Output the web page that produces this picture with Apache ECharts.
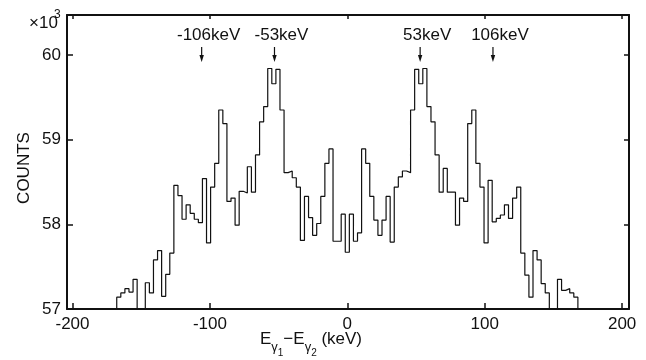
<!DOCTYPE html>
<html>
<head>
<meta charset="utf-8">
<script src="https://cdn.jsdelivr.net/npm/echarts@6/dist/echarts.min.js"></script>
<style>
html, body { margin: 0; padding: 0; background: #fff; }
#container { width: 646px; height: 360px; }
</style>
</head>
<body>
<div id="container"></div>
<script>
// energy difference spectrum, bins of ~2.97 keV centred on 0 (bin index -56 .. 56)
var binWidth = 2.97;
var firstBin = -56;
// counts in units of 10^3, one value per bin, left to right
var counts = [
    57.14, 57.19, 57.24, 57.20, 57.35, 57.00, 57.00, 57.31, 57.19, 57.58,
    57.69, 57.15, 57.41, 57.66, 58.46, 58.34, 58.06, 58.23, 58.13, 58.06,
    58.02, 58.54, 57.78, 58.44, 58.72, 59.35, 59.19, 58.27, 58.31, 57.99,
    58.39, 58.37, 58.68, 58.38, 58.82, 59.21, 59.39, 59.84, 59.66, 59.83,
    59.35, 58.61, 58.63, 58.55, 58.44, 57.81, 58.33, 58.08, 57.87, 58.01,
    58.33, 58.72, 58.89, 57.80, 57.80, 58.12, 57.67, 58.12, 57.80, 57.90,
    58.89, 58.72, 58.33, 58.05, 57.87, 58.05, 58.33, 57.79, 58.44, 58.56,
    58.63, 58.61, 59.35, 59.83, 59.66, 59.84, 59.39, 59.21, 58.82, 58.38,
    58.66, 58.38, 58.38, 57.99, 58.31, 58.27, 59.19, 59.35, 58.72, 58.44,
    57.78, 58.52, 58.03, 58.07, 58.11, 58.23, 58.07, 58.31, 58.44, 57.66,
    57.40, 57.14, 57.69, 57.58, 57.30, 57.19, 57.00, 57.00, 57.35, 57.22,
    57.24, 57.19, 57.14
];
var xTicks = [-200, -100, 0, 100, 200];
var yTicks = [57, 58, 59, 60];
var peakPos = [-106, -53, 53, 106];
var peakText = ['-106keV', '-53keV', '53keV', '106keV'];
// axis title pieces: text, font size, drop below the line (px)
var xTitle = [['E', 17, 0], ['γ', 13, 6], ['1', 10, 10], ['−E', 17, 0], ['γ', 13, 6], ['2', 10, 10], [' (keV)', 17, 0]];

var font = 'Liberation Sans';
var ink = '#111';

// step outline: one point per left bin edge
var histData = [];
var lastEdge = (firstBin + counts.length - 0.5) * binWidth;
histData.push([(firstBin - 0.5) * binWidth, 57]);
for (var i = 0; i < counts.length; i++) {
    histData.push([(firstBin + i - 0.5) * binWidth, counts[i]]);
}
histData.push([lastEdge, 57]);

var dom = document.getElementById('container');
var myChart = echarts.init(dom, null, { renderer: 'canvas' });

function xAxisDef(pos, tickLen, showLabel) {
    return {
        type: 'value', position: pos, min: -204, max: 205,
        axisLine: { show: true, onZero: false, lineStyle: { color: ink, width: 2 } },
        axisTick: { show: true, inside: true, length: tickLen, customValues: xTicks,
                    lineStyle: { color: ink, width: 1.5 } },
        axisLabel: { show: showLabel, customValues: xTicks, margin: 7, color: ink,
                     fontSize: 17, fontFamily: font },
        splitLine: { show: false }
    };
}
function yAxisDef(pos, tickLen, showLabel) {
    return {
        type: 'value', position: pos, min: 57, max: 60.472,
        axisLine: { show: true, onZero: false, lineStyle: { color: ink, width: 2 } },
        axisTick: { show: true, inside: true, length: tickLen, customValues: yTicks,
                    lineStyle: { color: ink, width: 1.5 } },
        axisLabel: { show: showLabel, customValues: yTicks, margin: 6, color: ink,
                     fontSize: 17, fontFamily: font },
        splitLine: { show: false }
    };
}

var option = {
    animation: false,
    backgroundColor: '#fff',
    grid: { left: 67, right: 17, top: 15, bottom: 51, containLabel: false, outerBoundsMode: 'none' },
    xAxis: [xAxisDef('bottom', 6, true), xAxisDef('top', 4, false)],
    yAxis: [yAxisDef('left', 6, true), yAxisDef('right', 5, false)],
    series: [
        {
            type: 'line',
            step: 'end',
            xAxisIndex: 0,
            yAxisIndex: 0,
            symbol: 'none',
            data: histData,
            lineStyle: { color: ink, width: 1.2 }
        }
    ]
};
myChart.setOption(option, true);

// texts and arrows placed through the axis scale
var graphics = [
    { type: 'text', x: 29, y: 23, style: { text: '×10', fill: ink, fontSize: 17, fontFamily: font, align: 'left', verticalAlign: 'middle' } },
    { type: 'text', x: 54, y: 15, style: { text: '3', fill: ink, fontSize: 12, fontFamily: font, align: 'left', verticalAlign: 'middle' } },
    { type: 'text', x: 24, y: 168, rotation: Math.PI / 2,
      style: { text: 'COUNTS', fill: ink, fontSize: 17, fontFamily: font, align: 'center', verticalAlign: 'middle' } }
];

// x axis title with subscripts, laid out piece by piece
var ctx = document.createElement('canvas').getContext('2d');
var widths = [];
var total = 0;
for (var k = 0; k < xTitle.length; k++) {
    ctx.font = xTitle[k][1] + 'px "' + font + '"';
    widths.push(ctx.measureText(xTitle[k][0]).width);
    total += widths[k];
}
var cx = 311 - total / 2;
for (var k = 0; k < xTitle.length; k++) {
    graphics.push({ type: 'text', x: cx, y: 348 + xTitle[k][2],
        style: { text: xTitle[k][0], fill: ink, fontSize: xTitle[k][1], fontFamily: font,
                 align: 'left', verticalAlign: 'bottom' } });
    cx += widths[k];
}

for (var j = 0; j < peakPos.length; j++) {
    var px = myChart.convertToPixel({ xAxisIndex: 0 }, peakPos[j]);
    graphics.push({ type: 'text', x: px + 7, y: 35.5,
        style: { text: peakText[j], fill: ink, fontSize: 17, fontFamily: font, align: 'center', verticalAlign: 'middle' } });
    graphics.push({ type: 'line', shape: { x1: px, y1: 47, x2: px, y2: 57 },
        style: { stroke: ink, lineWidth: 1.2 } });
    graphics.push({ type: 'polygon', shape: { points: [[px - 2.2, 55], [px + 2.2, 55], [px, 62]] },
        style: { fill: ink } });
}
myChart.setOption({ graphic: graphics });
</script>
</body>
</html>
